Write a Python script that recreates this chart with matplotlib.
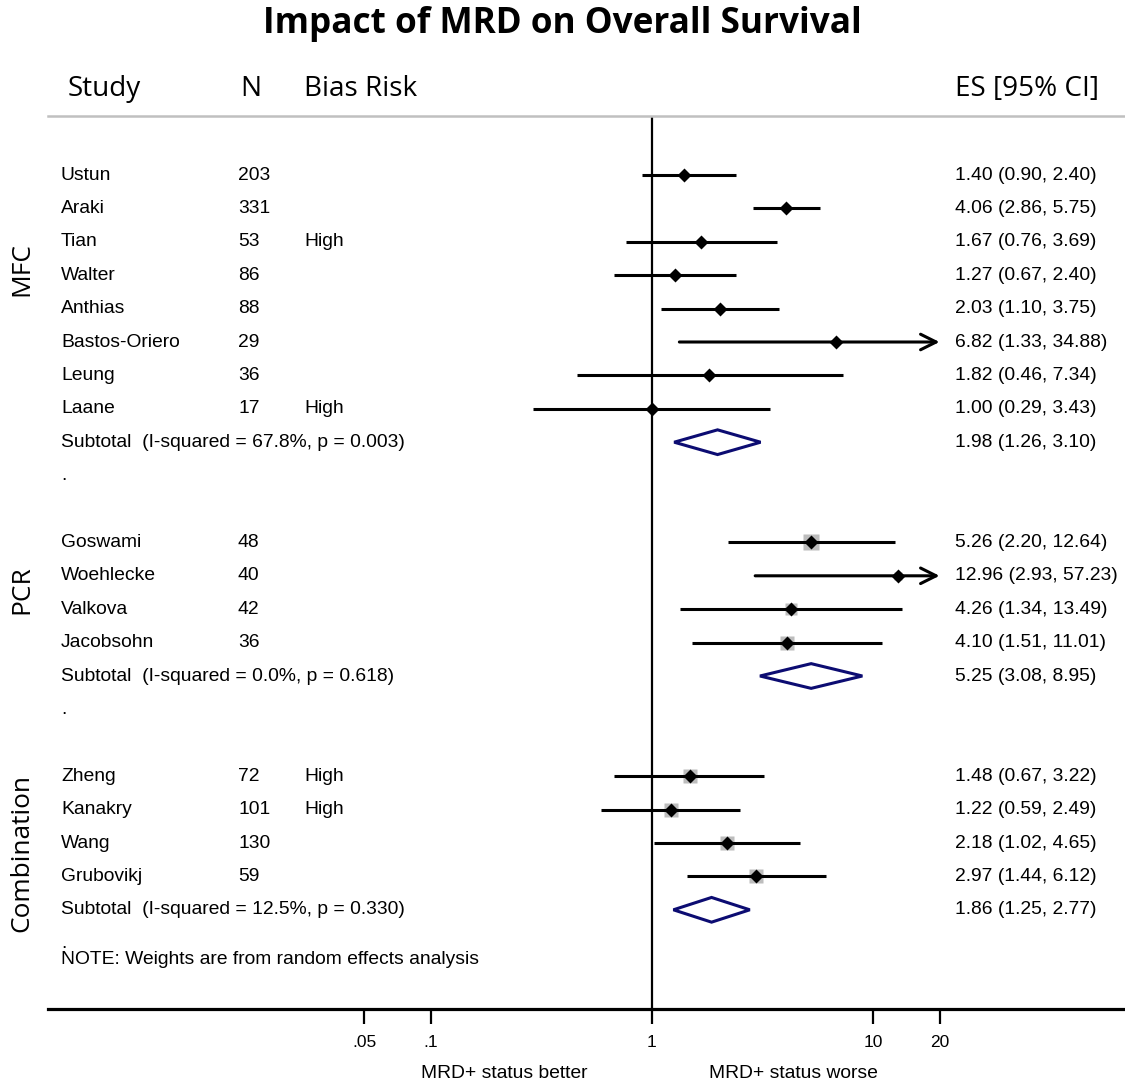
import matplotlib
matplotlib.use("Agg")
import matplotlib.pyplot as plt
import matplotlib.transforms as mtransforms
from matplotlib.patches import Polygon, Rectangle

# ---------------- data ----------------
groups = ["MFC", "PCR", "Combination"]

mfc_study = ["Ustun", "Araki", "Tian", "Walter", "Anthias", "Bastos-Oriero", "Leung", "Laane"]
mfc_n = [203, 331, 53, 86, 88, 29, 36, 17]
mfc_bias = ["", "", "High", "", "", "", "", "High"]
mfc_es = [1.40, 4.06, 1.67, 1.27, 2.03, 6.82, 1.82, 1.00]
mfc_lo = [0.90, 2.86, 0.76, 0.67, 1.10, 1.33, 0.46, 0.29]
mfc_hi = [2.40, 5.75, 3.69, 2.40, 3.75, 34.88, 7.34, 3.43]
mfc_w = [6, 6, 5, 5, 5, 3, 4, 4]

pcr_study = ["Goswami", "Woehlecke", "Valkova", "Jacobsohn"]
pcr_n = [48, 40, 42, 36]
pcr_bias = ["", "", "", ""]
pcr_es = [5.26, 12.96, 4.26, 4.10]
pcr_lo = [2.20, 2.93, 1.34, 1.51]
pcr_hi = [12.64, 57.23, 13.49, 11.01]
pcr_w = [30, 8, 20, 27]

comb_study = ["Zheng", "Kanakry", "Wang", "Grubovikj"]
comb_n = [72, 101, 130, 59]
comb_bias = ["High", "High", "", ""]
comb_es = [1.48, 1.22, 2.18, 2.97]
comb_lo = [0.67, 0.59, 1.02, 1.44]
comb_hi = [3.22, 2.49, 4.65, 6.12]
comb_w = [24, 25, 24, 27]

sub_es = [1.98, 5.25, 1.86]
sub_lo = [1.26, 3.08, 1.25]
sub_hi = [3.10, 8.95, 2.77]
sub_i2 = [67.8, 0.0, 12.5]
sub_p = [0.003, 0.618, 0.330]

xticks = [0.05, 0.1, 1, 10, 20]
xtick_labels = [".05", ".1", "1", "10", "20"]

title = "Impact of MRD on Overall Survival"
note = "NOTE: Weights are from random effects analysis"

# ---------------- layout ----------------
W, H = 1125, 1086
fig = plt.figure(figsize=(W / 100, H / 100), dpi=100)
renderer = fig.canvas.get_renderer()

def fx(x):
    return x / W

def fy(y):
    return 1 - y / H

ax_left, ax_right, ax_top, ax_bot = 48, 1125, 116, 1009
ax = fig.add_axes([fx(ax_left), fy(ax_bot), (ax_right - ax_left) / W, (ax_bot - ax_top) / H])
ax.set_xscale("log")
x1_px, dec_px = 652, 221.0
ax.set_xlim(10 ** (-(x1_px - ax_left) / dec_px), 10 ** ((ax_right - x1_px) / dec_px))
row0, rowh = 175, 33.4
ax.set_ylim((ax_bot - row0) / rowh, (ax_top - row0) / rowh)

for s in ["left", "right"]:
    ax.spines[s].set_visible(False)
ax.spines["top"].set_color("#c0c0c0")
ax.spines["top"].set_linewidth(1.8)
ax.spines["bottom"].set_linewidth(2.3)
ax.set_yticks([])
ax.set_xticks(xticks)
ax.set_xticklabels(xtick_labels)
ax.minorticks_off()
ax.tick_params(axis="x", length=11, width=1.6, pad=8, labelsize=12.5)
for lab in ax.get_xticklabels():
    lab.set_family("Liberation Sans")

ax.axvline(1, color="black", lw=1.6, zorder=1)

trans = mtransforms.blended_transform_factory(fig.transFigure, ax.transData)
BODY = "Liberation Sans"
HEAD = "Open Sans"
navy = "#0c0c72"

def fit(t, target):
    w = t.get_window_extent(renderer).width
    t.set_fontsize(t.get_fontsize() * target / w)
    return t.get_fontsize()

probe = fig.text(0, 0, "Subtotal  (I-squared = 67.8%, p = 0.003)", family=BODY, fontsize=12)
body_fs = fit(probe, 344)
probe.remove()

xmax_tick = max(xticks)

def draw_study(y, name, n, bias, es, lo, hi, w):
    ax.text(fx(61), y, name, transform=trans, family=BODY, fontsize=body_fs, va="center")
    ax.text(fx(238), y, str(n), transform=trans, family=BODY, fontsize=body_fs, va="center")
    if bias:
        ax.text(fx(304), y, bias, transform=trans, family=BODY, fontsize=body_fs, va="center")
    ax.text(fx(955), y, f"{es:.2f} ({lo:.2f}, {hi:.2f})", transform=trans,
            family=BODY, fontsize=body_fs, va="center")
    side_px = 2.8 * w ** 0.5
    ax.plot([es], [y], marker="s", ms=side_px / 1.389, color="#bdbdbd", mec="none", zorder=2)
    if hi > xmax_tick:
        ax.annotate("", xy=(xmax_tick, y), xytext=(lo, y),
                    arrowprops=dict(arrowstyle="->", lw=2.2, color="black",
                                    mutation_scale=28, shrinkA=0, shrinkB=0), zorder=3)
    else:
        ax.plot([lo, hi], [y, y], color="black", lw=2.2, solid_capstyle="butt", zorder=3)
    ax.plot([es], [y], marker="D", ms=7, color="black", mec="none", zorder=4)

def draw_subtotal(y, es, lo, hi, i2, p):
    ax.text(fx(61), y, f"Subtotal  (I-squared = {i2:.1f}%, p = {p:.3f})", transform=trans,
            family=BODY, fontsize=body_fs, va="center")
    ax.text(fx(955), y, f"{es:.2f} ({lo:.2f}, {hi:.2f})", transform=trans,
            family=BODY, fontsize=body_fs, va="center")
    h = 0.37
    poly = Polygon([(lo, y), (es, y - h), (hi, y), (es, y + h)], closed=True,
                   facecolor="white", edgecolor=navy, lw=2.2, zorder=4, joinstyle="miter")
    ax.add_patch(poly)

group_data = [
    (mfc_study, mfc_n, mfc_bias, mfc_es, mfc_lo, mfc_hi, mfc_w),
    (pcr_study, pcr_n, pcr_bias, pcr_es, pcr_lo, pcr_hi, pcr_w),
    (comb_study, comb_n, comb_bias, comb_es, comb_lo, comb_hi, comb_w),
]

row = -1
header_rows = []
for gi, (st, nn, bb, ee, ll, hh, ww) in enumerate(group_data):
    header_rows.append(row)
    row += 1
    for k in range(len(st)):
        draw_study(row, st[k], nn[k], bb[k], ee[k], ll[k], hh[k], ww[k])
        row += 1
    draw_subtotal(row, sub_es[gi], sub_lo[gi], sub_hi[gi], sub_i2[gi], sub_p[gi])
    row += 1
    ax.text(fx(61), row, ".", transform=trans, family=BODY, fontsize=body_fs, va="center")
    row += 1

# partially hidden group header (as in the original export)
ax.text(fx(61), header_rows[2], groups[2], transform=trans, family=BODY, fontsize=body_fs, va="center")
fig.patches.append(Rectangle((fx(55), fy(760)), fx(250) - fx(55), fy(734.3) - fy(760),
                             transform=fig.transFigure, facecolor="white", edgecolor="none",
                             zorder=10))

ax.text(fx(61), row - 0.5, note, transform=trans, family=BODY, fontsize=body_fs, va="center")

# headers
tES = fig.text(fx(1099), fy(89), "ES [95% CI]", family=HEAD, fontsize=16, ha="right", va="center")
head_fs = fit(tES, 144)
fig.text(fx(68), fy(89), "Study", family=HEAD, fontsize=head_fs, va="center")
fig.text(fx(240), fy(89), "N", family=HEAD, fontsize=head_fs, va="center")
fig.text(fx(304), fy(89), "Bias Risk", family=HEAD, fontsize=head_fs, va="center")

tt = fig.text(fx(562), fy(24), title, family=HEAD, fontweight="bold", fontsize=26,
              ha="center", va="center")
fit(tt, 599)

# group labels (hand-placed in the original, centres in pixels)
group_label_px = [269, 590, 853]
gl = []
for gi, g in enumerate(groups):
    gl.append(fig.text(fx(22), fy(group_label_px[gi]), g, family=HEAD, fontsize=17,
                       rotation=90, ha="center", va="center"))
gfs = gl[2].get_fontsize() * 158 / gl[2].get_window_extent(renderer).height
for t in gl:
    t.set_fontsize(gfs)

# direction labels
d1 = fig.text(fx(504), fy(1073), "MRD+ status better", family=BODY, fontsize=12, ha="center", va="center")
dfs = fit(d1, 166)
fig.text(fx(793), fy(1073), "MRD+ status worse", family=BODY, fontsize=dfs, ha="center", va="center")

fig.savefig("out.png", dpi=100, facecolor="white")
